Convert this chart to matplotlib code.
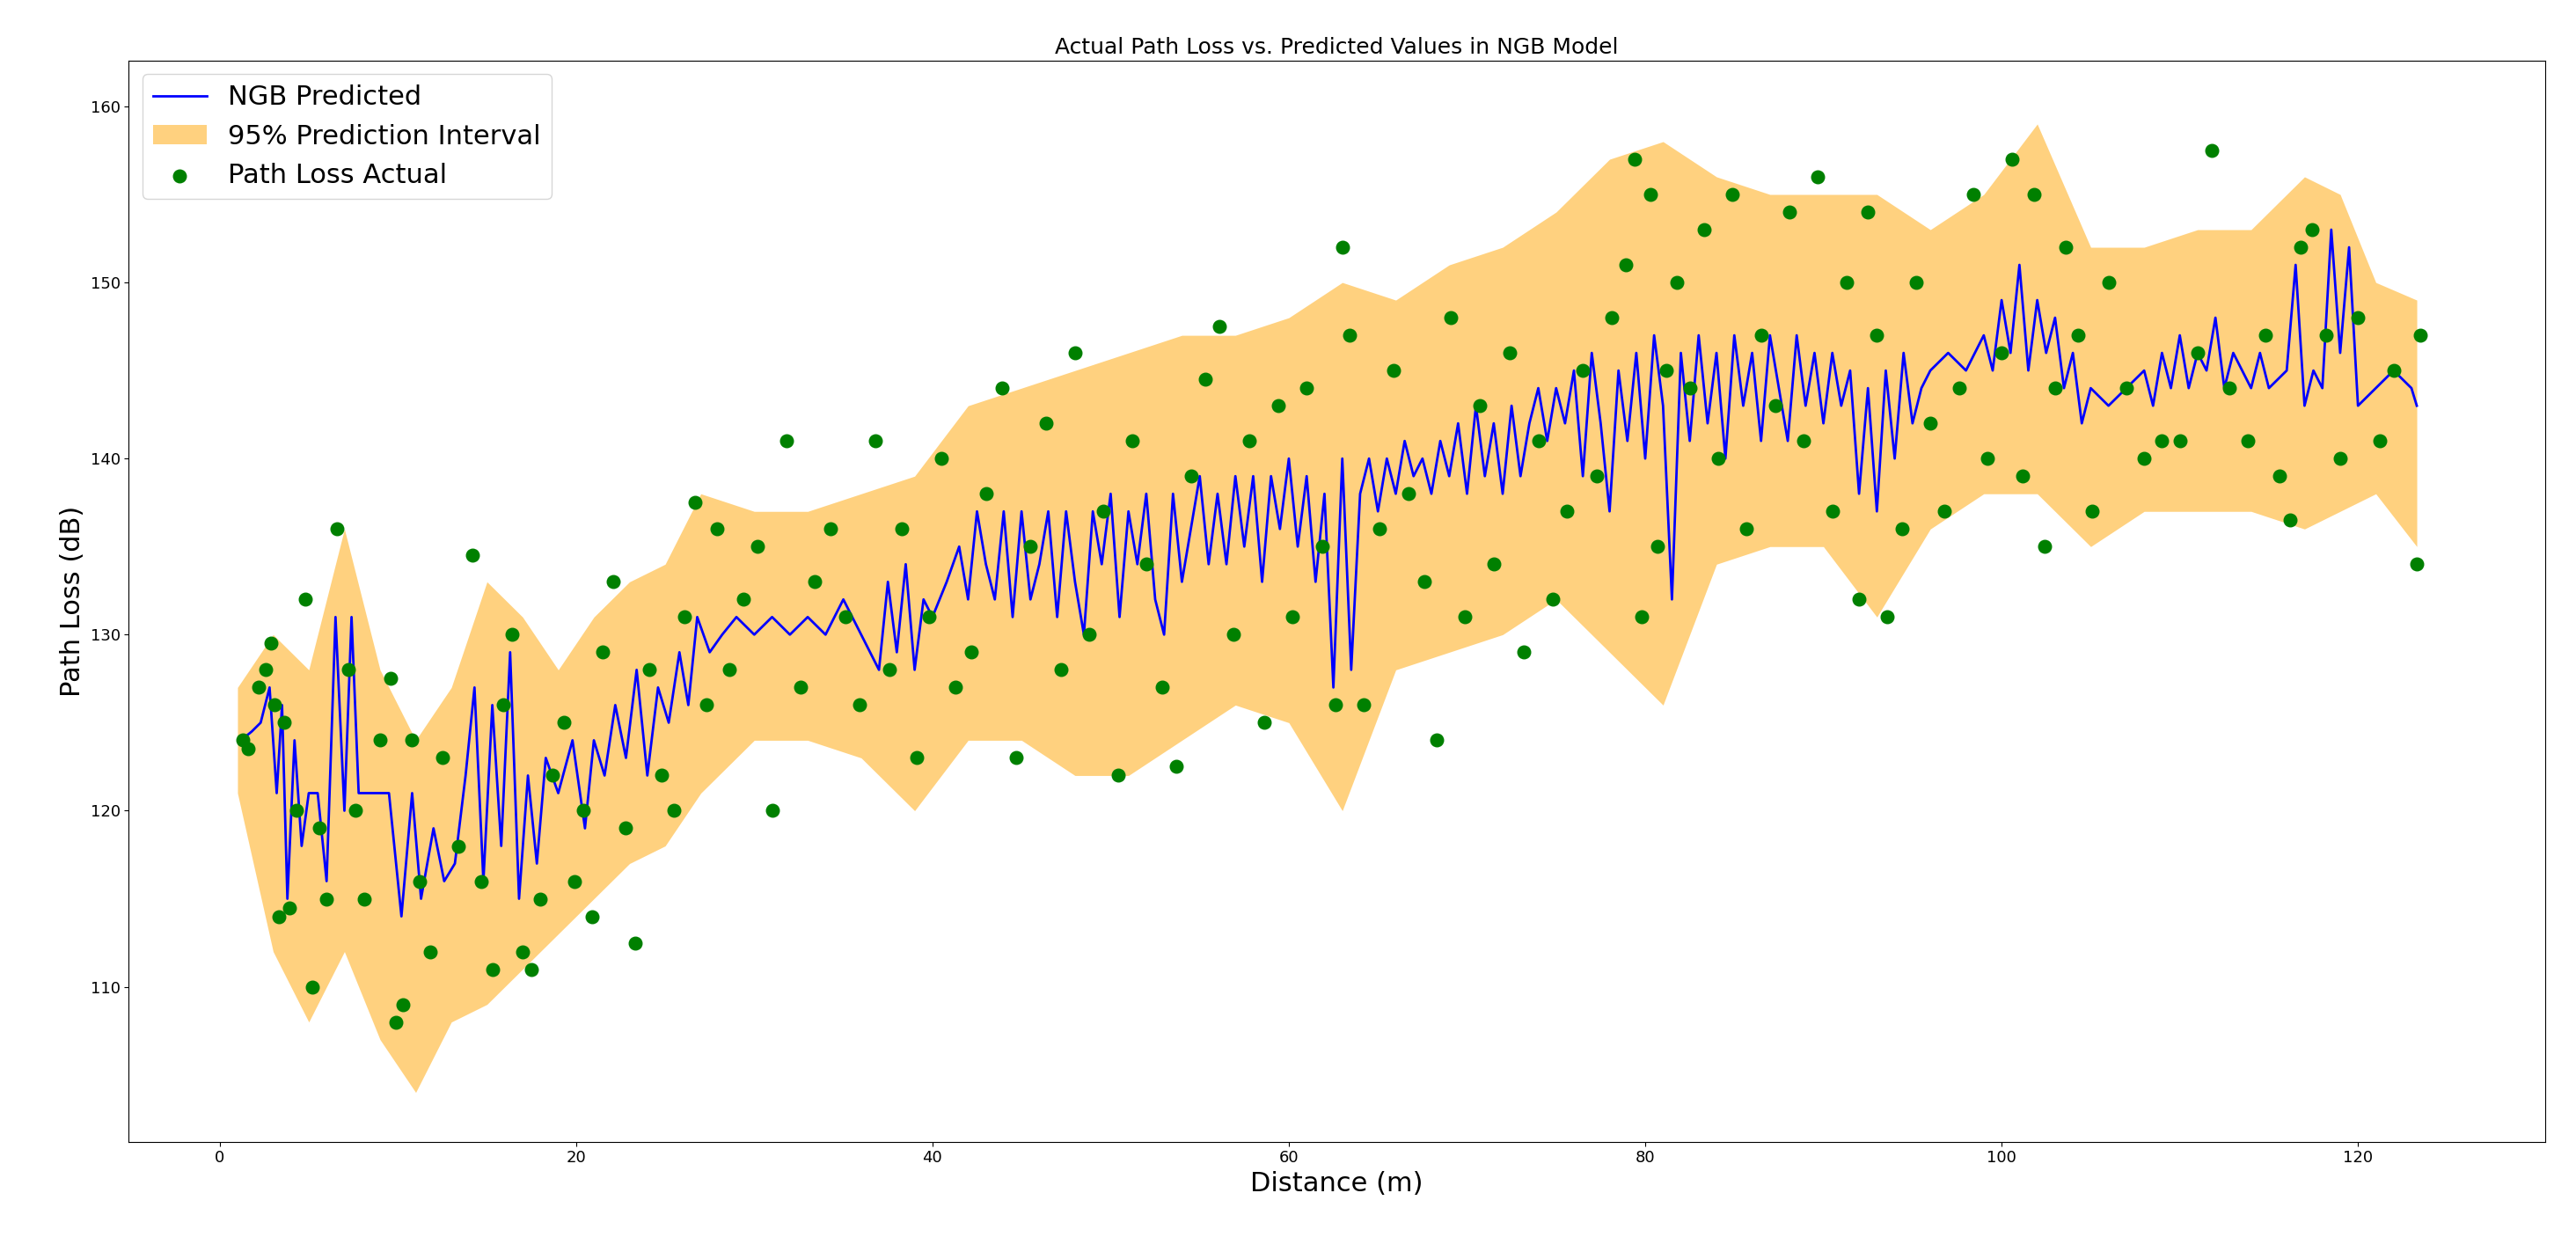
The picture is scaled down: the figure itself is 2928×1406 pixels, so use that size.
import matplotlib
matplotlib.use("Agg")
import matplotlib.pyplot as plt

# NGB predicted line (sorted by distance)
pred_x = [1.2, 1.8, 2.3, 2.8, 3.2, 3.5, 3.8, 4.2, 4.6, 5.0, 5.5, 6.0, 6.5, 7.0, 7.4, 7.8, 8.5, 9.5,
          10.2, 10.8, 11.3, 12.0, 12.6, 13.2, 13.8, 14.3, 14.8, 15.3, 15.8, 16.3, 16.8, 17.3, 17.8,
          18.3, 19.0, 19.8, 20.5, 21.0, 21.6, 22.2, 22.8, 23.4, 24.0, 24.6, 25.2, 25.8, 26.3, 26.8,
          27.5, 28.2, 29.0, 30.0, 31.0, 32.0, 33.0, 34.0, 35.0, 36.0, 37.0, 37.5, 38.0, 38.5, 39.0,
          39.5, 40.0, 40.8, 41.5, 42.0, 42.5, 43.0, 43.5, 44.0, 44.5, 45.0, 45.5, 46.0, 46.5, 47.0,
          47.5, 48.0, 48.5, 49.0, 49.5, 50.0, 50.5, 51.0, 51.5, 52.0, 52.5, 53.0, 53.5, 54.0, 54.5,
          55.0, 55.5, 56.0, 56.5, 57.0, 57.5, 58.0, 58.5, 59.0, 59.5, 60.0, 60.5, 61.0, 61.5, 62.0,
          62.5, 63.0, 63.5, 64.0, 64.5, 65.0, 65.5, 66.0, 66.5, 67.0, 67.5, 68.0, 68.5, 69.0, 69.5,
          70.0, 70.5, 71.0, 71.5, 72.0, 72.5, 73.0, 73.5, 74.0, 74.5, 75.0, 75.5, 76.0, 76.5, 77.0,
          77.5, 78.0, 78.5, 79.0, 79.5, 80.0, 80.5, 81.0, 81.5, 82.0, 82.5, 83.0, 83.5, 84.0, 84.5,
          85.0, 85.5, 86.0, 86.5, 87.0, 87.5, 88.0, 88.5, 89.0, 89.5, 90.0, 90.5, 91.0, 91.5, 92.0,
          92.5, 93.0, 93.5, 94.0, 94.5, 95.0, 95.5, 96.0, 97.0, 98.0, 99.0, 99.5, 100.0, 100.5,
          101.0, 101.5, 102.0, 102.5, 103.0, 103.5, 104.0, 104.5, 105.0, 106.0, 107.0, 108.0,
          108.5, 109.0, 109.5, 110.0, 110.5, 111.0, 111.5, 112.0, 112.5, 113.0, 113.5, 114.0,
          114.5, 115.0, 116.0, 116.5, 117.0, 117.5, 118.0, 118.5, 119.0, 119.5, 120.0, 121.0,
          122.0, 123.0, 123.3]
pred_y = [124, 124.5, 125, 127, 121, 126, 115, 124, 118, 121, 121, 116, 131, 120, 131, 121, 121, 121,
          114, 121, 115, 119, 116, 117, 122, 127, 116, 126, 118, 129, 115, 122, 117,
          123, 121, 124, 119, 124, 122, 126, 123, 128, 122, 127, 125, 129, 126, 131,
          129, 130, 131, 130, 131, 130, 131, 130, 132, 130, 128, 133, 129, 134, 128,
          132, 131, 133, 135, 132, 137, 134, 132, 137, 131, 137, 132, 134, 137, 131,
          137, 133, 130, 137, 134, 138, 131, 137, 134, 138, 132, 130, 138, 133, 136,
          139, 134, 138, 134, 139, 135, 139, 133, 139, 136, 140, 135, 139, 133, 138,
          127, 140, 128, 138, 140, 137, 140, 138, 141, 139, 140, 138, 141, 139, 142,
          138, 143, 139, 142, 138, 143, 139, 142, 144, 141, 144, 142, 145, 139, 146,
          142, 137, 145, 141, 146, 140, 147, 143, 132, 146, 141, 147, 142, 146, 140,
          147, 143, 146, 141, 147, 144, 141, 147, 143, 146, 142, 146, 143, 145, 138,
          144, 137, 145, 140, 146, 142, 144, 145, 146, 145, 147, 145, 149, 146,
          151, 145, 149, 146, 148, 144, 146, 142, 144, 143, 144, 145,
          143, 146, 144, 147, 144, 146, 145, 148, 144, 146, 145, 144,
          146, 144, 145, 151, 143, 145, 144, 153, 146, 152, 143, 144,
          145, 144, 143]

# 95% prediction interval
band_x = [1, 3, 5, 7, 9, 11, 13, 15, 17, 19, 21, 23, 25, 27, 30, 33, 36, 39, 42, 45, 48, 51, 54,
          57, 60, 63, 66, 69, 72, 75, 78, 81, 84, 87, 90, 93, 96, 99, 102, 105, 108, 111, 114,
          117, 119, 121, 123.3]
band_lo = [121, 112, 108, 112, 107, 104, 108, 109, 111, 113, 115, 117, 118, 121, 124, 124, 123, 120,
           124, 124, 122, 122, 124, 126, 125, 120, 128, 129, 130, 132, 129, 126, 134, 135, 135,
           131, 136, 138, 138, 135, 137, 137, 137, 136, 137, 138, 135]
band_hi = [127, 130, 128, 136, 128, 124, 127, 133, 131, 128, 131, 133, 134, 138, 137, 137, 138, 139,
           143, 144, 145, 146, 147, 147, 148, 150, 149, 151, 152, 154, 157, 158, 156, 155, 155,
           155, 153, 155, 159, 152, 152, 153, 153, 156, 155, 150, 149]

# actual path loss measurements
act_x = [1.3, 1.6, 2.2, 2.6, 2.9, 3.1, 3.3, 3.6, 3.9, 4.3, 4.8, 5.2, 5.6, 6.0, 6.6, 7.2, 7.6, 8.1,
         9.0, 9.6, 9.9, 10.3, 10.8, 11.2, 11.8, 12.5, 13.4, 14.2, 14.7, 15.3, 15.9, 16.4, 17.0,
         17.5, 18.0, 18.7, 19.3, 19.9, 20.4, 20.9, 21.5, 22.1, 22.8, 23.3, 24.1, 24.8, 25.5,
         26.1, 26.7, 27.3, 27.9, 28.6, 29.4, 30.2, 31.0, 31.8, 32.6, 33.4, 34.3, 35.1, 35.9,
         36.8, 37.6, 38.3, 39.1, 39.8, 40.5, 41.3, 42.2, 43.0, 43.9, 44.7, 45.5, 46.4, 47.2,
         48.0, 48.8, 49.6, 50.4, 51.2, 52.0, 52.9, 53.7, 54.5, 55.3, 56.1, 56.9, 57.8, 58.6,
         59.4, 60.2, 61.0, 61.9, 62.6, 63.0, 63.4, 64.2, 65.1, 65.9, 66.7, 67.6, 68.3, 69.1,
         69.9, 70.7, 71.5, 72.4, 73.2, 74.0, 74.8, 75.6, 76.5, 77.3, 78.1, 78.9, 79.4, 79.8,
         80.3, 80.7, 81.2, 81.8, 82.5, 83.3, 84.1, 84.9, 85.7, 86.5, 87.3, 88.1, 88.9, 89.7,
         90.5, 91.3, 92.0, 92.5, 93.0, 93.6, 94.4, 95.2, 96.0, 96.8, 97.6, 98.4, 99.2, 100.0,
         100.6, 101.2, 101.8, 102.4, 103.0, 103.6, 104.3, 105.1, 106.0, 107.0, 108.0, 109.0,
         110.0, 111.0, 111.8, 112.8, 113.8, 114.8, 115.6, 116.2, 116.8, 117.4, 118.2, 119.0,
         120.0, 121.2, 122.0, 123.3, 123.5]
act_y = [124, 123.5, 127, 128, 129.5, 126, 114, 125, 114.5, 120, 132, 110, 119, 115, 136, 128, 120, 115,
         124, 127.5, 108, 109, 124, 116, 112, 123, 118, 134.5, 116, 111, 126, 130, 112,
         111, 115, 122, 125, 116, 120, 114, 129, 133, 119, 112.5, 128, 122, 120,
         131, 137.5, 126, 136, 128, 132, 135, 120, 141, 127, 133, 136, 131, 126,
         141, 128, 136, 123, 131, 140, 127, 129, 138, 144, 123, 135, 142, 128,
         146, 130, 137, 122, 141, 134, 127, 122.5, 139, 144.5, 147.5, 130, 141, 125,
         143, 131, 144, 135, 126, 152, 147, 126, 136, 145, 138, 133, 124, 148,
         131, 143, 134, 146, 129, 141, 132, 137, 145, 139, 148, 151, 157, 131,
         155, 135, 145, 150, 144, 153, 140, 155, 136, 147, 143, 154, 141, 156,
         137, 150, 132, 154, 147, 131, 136, 150, 142, 137, 144, 155, 140, 146,
         157, 139, 155, 135, 144, 152, 147, 137, 150, 144, 140, 141,
         141, 146, 157.5, 144, 141, 147, 139, 136.5, 152, 153, 147, 140,
         148, 141, 145, 134, 147]

fig, ax = plt.subplots(figsize=(29.28, 14.06), dpi=100)
fig.subplots_adjust(left=0.05, right=0.988, top=0.951, bottom=0.077)

ax.fill_between(band_x, band_lo, band_hi, color="orange", alpha=0.5, linewidth=0,
                label="95% Prediction Interval")
ax.plot(pred_x, pred_y, color="blue", linewidth=2, label="NGB Predicted")
ax.scatter(act_x, act_y, color="green", s=110, zorder=3, label="Path Loss Actual")

ax.set_xlim(-5.1, 130.5)
ax.set_ylim(101.2, 162.6)
ax.set_title("Actual Path Loss vs. Predicted Values in NGB Model", fontsize=18)
ax.set_xlabel("Distance (m)", fontsize=22)
ax.set_ylabel("Path Loss (dB)", fontsize=22)
ax.tick_params(labelsize=13)

handles, labels = ax.get_legend_handles_labels()
order = [1, 0, 2]
ax.legend([handles[i] for i in order], [labels[i] for i in order], loc="upper left", fontsize=22)

fig.savefig("out.png")
